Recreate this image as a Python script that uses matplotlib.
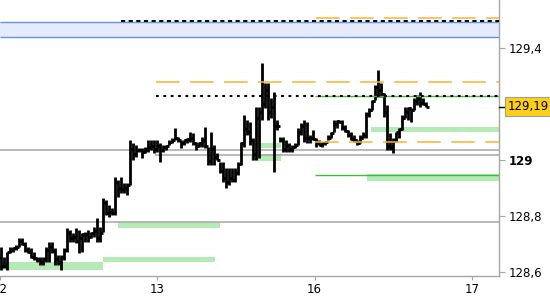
import matplotlib
matplotlib.use("Agg")
import numpy as np
import matplotlib.pyplot as plt

plt.rcParams["font.family"] = ["DejaVu Sans"]
plt.rcParams["lines.scale_dashes"] = False

# trading days on the x axis (positions 0..3)
day_labels = ["12", "13", "16", "17"]
bars_per_day = 52.5

highs = [
    128.690, 128.655, 128.673, 128.690, 128.690, 128.696, 128.720, 128.720, 128.708, 128.690,
    128.685, 128.673, 128.655, 128.655, 128.655, 128.690, 128.708, 128.708, 128.685, 128.661,
    128.661, 128.685, 128.756, 128.750, 128.738, 128.756, 128.750, 128.738, 128.744, 128.750,
    128.744, 128.762, 128.792, 128.762, 128.863, 128.857, 128.839, 128.827, 128.940, 128.929,
    128.940, 128.917, 128.917, 129.071, 129.060, 129.054, 129.042, 129.042, 129.048, 129.071,
    129.071, 129.071, 129.071, 129.060, 129.054, 129.054, 129.071, 129.077, 129.113, 129.083,
    129.071, 129.071, 129.077, 129.101, 129.095, 129.065, 129.065, 129.083, 129.119, 129.048,
    129.101, 129.054, 129.024, 128.994, 128.994, 128.970, 128.970, 128.970, 128.970, 128.994,
    129.065, 129.161, 129.143, 129.137, 129.077, 129.190, 129.190, 129.345, 129.274, 129.274,
    129.220, 129.244, 129.143, 129.083, 129.083, 129.071, 129.060, 129.054, 129.061, 129.113,
    129.131, 129.143, 129.137, 129.089, 129.107, 129.077, 129.071, 129.065, 129.065, 129.089,
    129.101, 129.143, 129.143, 129.143, 129.143, 129.125, 129.107, 129.101, 129.089, 129.071,
    129.089, 129.101, 129.172, 129.185, 129.214, 129.268, 129.321, 129.274, 129.238, 129.196,
    129.095, 129.077, 129.101, 129.113, 129.161, 129.190, 129.190, 129.185, 129.220, 129.232,
    129.244, 129.220, 129.208,
]
lows = [
    128.607, 128.613, 128.607, 128.667, 128.673, 128.679, 128.690, 128.696, 128.673, 128.667,
    128.649, 128.643, 128.637, 128.625, 128.625, 128.637, 128.637, 128.667, 128.625, 128.625,
    128.607, 128.643, 128.673, 128.708, 128.708, 128.702, 128.667, 128.673, 128.708, 128.708,
    128.720, 128.726, 128.708, 128.708, 128.744, 128.804, 128.798, 128.804, 128.804, 128.869,
    128.881, 128.881, 128.875, 128.911, 129.000, 129.012, 129.030, 129.006, 129.024, 129.030,
    129.036, 129.024, 129.030, 128.994, 129.030, 129.036, 129.054, 129.060, 129.071, 129.065,
    129.042, 129.054, 129.060, 129.065, 129.054, 129.036, 129.048, 129.048, 129.042, 128.982,
    128.982, 128.982, 129.000, 128.952, 128.923, 128.899, 128.911, 128.923, 128.923, 128.946,
    128.982, 129.048, 129.089, 129.054, 129.000, 129.000, 129.006, 129.143, 129.185, 129.143,
    129.149, 128.958, 129.107, 129.065, 129.030, 129.030, 129.030, 129.030, 129.043, 129.054,
    129.089, 129.065, 129.060, 129.060, 129.071, 129.048, 129.054, 129.048, 129.054, 129.071,
    129.077, 129.101, 129.113, 129.131, 129.107, 129.101, 129.083, 129.071, 129.065, 129.054,
    129.060, 129.077, 129.077, 129.155, 129.179, 129.214, 129.226, 129.226, 129.155, 129.036,
    129.036, 129.024, 129.065, 129.077, 129.107, 129.149, 129.143, 129.137, 129.179, 129.196,
    129.190, 129.196, 129.190,
]
opens = [
    128.65, 128.62, 128.62, 128.67, 128.68, 128.685, 128.69, 128.71, 128.70, 128.68,
    128.67, 128.655, 128.65, 128.645, 128.635, 128.645, 128.68, 128.69, 128.675, 128.645,
    128.635, 128.655, 128.68, 128.74, 128.72, 128.725, 128.71, 128.72, 128.735, 128.735,
    128.725, 128.74, 128.745, 128.72, 128.74, 128.845, 128.81, 128.815, 128.81, 128.92,
    128.90, 128.895, 128.90, 128.91, 129.04, 129.02, 129.035, 129.035, 129.03, 129.04,
    129.045, 129.05, 129.04, 129.05, 129.035, 129.045, 129.05, 129.065, 129.07, 129.08,
    129.07, 129.06, 129.07, 129.075, 129.08, 129.06, 129.05, 129.06, 129.07, 129.05,
    128.995, 129.04, 129.01, 129.00, 128.96, 128.935, 128.92, 128.935, 128.93, 128.955,
    128.985, 129.06, 129.11, 129.10, 129.07, 129.02, 129.15, 129.17, 129.20, 129.25,
    129.17, 129.19, 129.12, 129.12, 129.07, 129.04, 129.05, 129.04, 129.045, 129.055,
    129.10, 129.12, 129.08, 129.08, 129.08, 129.075, 129.06, 129.055, 129.06, 129.065,
    129.08, 129.095, 129.13, 129.14, 129.135, 129.115, 129.105, 129.09, 129.075, 129.07,
    129.06, 129.08, 129.09, 129.165, 129.18, 129.21, 129.26, 129.25, 129.235, 129.17,
    129.05, 129.045, 129.07, 129.10, 129.11, 129.15, 129.17, 129.185, 129.18, 129.21,
    129.22, 129.205, 129.20,
]
closes = [
    128.62, 128.62, 128.67, 128.68, 128.685, 128.69, 128.71, 128.70, 128.68, 128.67,
    128.655, 128.65, 128.645, 128.635, 128.645, 128.68, 128.69, 128.675, 128.645, 128.635,
    128.655, 128.68, 128.74, 128.72, 128.725, 128.71, 128.72, 128.735, 128.735, 128.725,
    128.74, 128.745, 128.72, 128.74, 128.845, 128.81, 128.815, 128.81, 128.92, 128.90,
    128.895, 128.90, 128.91, 129.04, 129.02, 129.035, 129.035, 129.03, 129.04, 129.045,
    129.05, 129.04, 129.05, 129.035, 129.045, 129.05, 129.065, 129.07, 129.08, 129.07,
    129.06, 129.07, 129.075, 129.08, 129.06, 129.05, 129.06, 129.07, 129.05, 128.995,
    129.04, 129.01, 129.00, 128.96, 128.935, 128.92, 128.935, 128.93, 128.955, 128.985,
    129.06, 129.11, 129.10, 129.07, 129.02, 129.15, 129.17, 129.20, 129.25, 129.17,
    129.19, 129.12, 129.12, 129.07, 129.04, 129.05, 129.04, 129.045, 129.055, 129.10,
    129.12, 129.08, 129.08, 129.08, 129.075, 129.06, 129.055, 129.06, 129.065, 129.08,
    129.095, 129.13, 129.14, 129.135, 129.115, 129.105, 129.09, 129.075, 129.07, 129.06,
    129.08, 129.09, 129.165, 129.18, 129.21, 129.26, 129.25, 129.235, 129.17, 129.05,
    129.045, 129.07, 129.10, 129.11, 129.15, 129.17, 129.185, 129.18, 129.21, 129.22,
    129.205, 129.20, 129.19,
]

last_price = 129.19
last_label = "129,19"

price_ticks = [128.6, 128.8, 129.0, 129.4]
price_tick_labels = ["128,6", "128,8", "129", "129,4"]

# horizontal levels: (price, first day position)
grey_levels = [(129.036, 0.0), (129.018, 0.985), (128.779, 0.0)]
green_levels = [(129.229, 2.003), (128.946, 2.003)]
dotted_levels = [(129.229, 0.992)]
dashed_levels = [(129.496, 0.77)]
orange_levels = [(129.507, 2.01), (129.278, 0.992), (129.064, 2.003)]
blue_band = (129.438, 129.492)

# green zones: (day start, day end or None = open, low, high)
zones = [
    (0.0, 0.655, 128.607, 128.637),
    (0.655, 1.367, 128.637, 128.655),
    (0.750, 1.399, 128.758, 128.778),
    (1.621, 1.786, 129.042, 129.060),
    (1.596, 1.786, 128.998, 129.020),
    (2.359, None, 129.099, 129.119),
    (2.333, None, 128.925, 128.950),
]

X_MAX = 3.172
Y_MIN, Y_MAX = 128.586, 129.571
GREY = "#a6a6a6"
ORANGE = "#f8b52e"
GREEN = "#3dbb3d"
ZONE = "#b5e9b5"


def main():
    fig = plt.figure(figsize=(5.5, 3), dpi=100)
    ax = fig.add_axes([0, 0.08, 499 / 550, 0.92])
    ax.set_xlim(0, X_MAX)
    ax.set_ylim(Y_MIN, Y_MAX)

    # blue band at the top, border only above and below
    ax.axhspan(blue_band[0], blue_band[1], facecolor="#e5ebfb", lw=0, zorder=1)
    ax.hlines(blue_band, 0, X_MAX, color="#6393ee", lw=1.0, zorder=1)

    for x0, x1, lo, hi in zones:
        x1 = X_MAX if x1 is None else x1
        ax.fill_between([x0, x1], lo, hi, color=ZONE, lw=0, zorder=1)

    for price, start in grey_levels:
        ax.hlines(price, start, X_MAX, color=GREY, lw=1.1, zorder=2)

    x = (np.arange(len(highs)) + 0.3) / bars_per_day
    tick = 0.014
    ax.vlines(x, lows, highs, color="black", lw=2.0, zorder=3)
    ax.hlines(opens, x - tick, x, color="black", lw=2.0, zorder=3)
    ax.hlines(closes, x, x + tick, color="black", lw=2.0, zorder=3)

    for price, start in green_levels:
        ax.hlines(price, start, X_MAX, color=GREEN, lw=1.0, zorder=4)
    for price, start in dotted_levels:
        ax.hlines(price, start, X_MAX, color="black", lw=1.5,
                  linestyles=(0, (2.0, 3.3)), zorder=5)
    for price, start in dashed_levels:
        ax.hlines(price, start, X_MAX, color="black", lw=1.4,
                  linestyles=(0, (3.0, 2.5)), zorder=5)
    for price, start in orange_levels:
        ax.hlines(price, start, X_MAX, color=ORANGE, lw=1.1,
                  linestyles=(0, (17.0, 7.5)), zorder=5)

    # axes styling
    for side in ("top", "left"):
        ax.spines[side].set_visible(False)
    for side in ("right", "bottom"):
        ax.spines[side].set_color(GREY)
        ax.spines[side].set_linewidth(1.0)

    ax.yaxis.tick_right()
    ax.set_yticks(price_ticks, price_tick_labels)
    for lab in ax.get_yticklabels():
        if lab.get_text() == "129":
            lab.set_fontweight("bold")
    ax.set_xticks(range(len(day_labels)), day_labels)
    ax.tick_params(axis="y", direction="out", length=4, color=GREY,
                   labelsize=8.5, pad=3)
    ax.tick_params(axis="x", direction="out", length=3, color=GREY,
                   labelsize=8.5, pad=2)

    # last price marker on the right axis
    ytrans = ax.get_yaxis_transform()
    ax.plot([1.0, 1.013], [last_price, last_price], color="black", lw=1.0,
            transform=ytrans, clip_on=False, zorder=6)
    ax.text(1.018, last_price, last_label, transform=ytrans, fontsize=8.5,
            ha="left", va="center", zorder=7,
            bbox=dict(boxstyle="square,pad=0.25", facecolor="#fdd017",
                      edgecolor="#a0a0a0", lw=0.8))

    fig.savefig("out.png", dpi=100)
    plt.close(fig)


if __name__ == "__main__":
    main()
